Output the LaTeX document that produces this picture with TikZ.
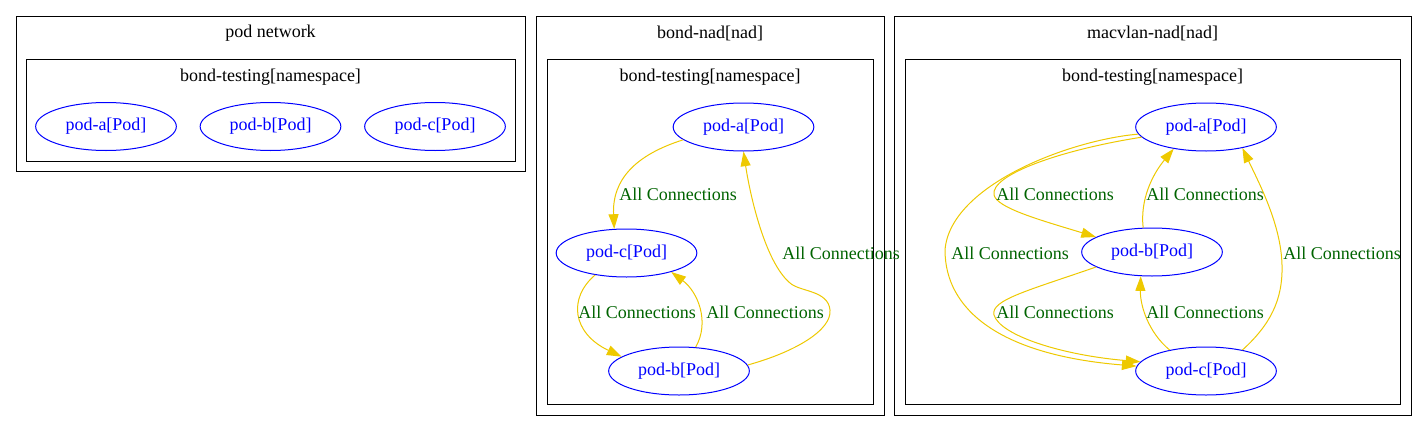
\documentclass[tikz,border=0pt]{standalone}
\usepackage{fontspec}
\setmainfont{Liberation Serif}
\usetikzlibrary{shapes.geometric,arrows.meta}
\definecolor{edgeyellow}{HTML}{EEC900}
\definecolor{labelgreen}{HTML}{006400}
\tikzset{
  pod/.style={ellipse, draw=blue, text=blue, line width=0.75pt, minimum width=105.5pt, minimum height=36pt, inner sep=0pt},
  clusterbox/.style={draw=black, line width=0.75pt},
  conn/.style={draw=edgeyellow, line width=0.75pt, -{Triangle[length=11pt,width=7.5pt]}},
  connlabel/.style={text=labelgreen, inner sep=0pt},
  ctitle/.style={text=black, inner sep=0pt}
}
\begin{document}
\begin{tikzpicture}[x=0.75pt,y=-0.75pt,font=\fontsize{13.5}{16}\selectfont]
\useasboundingbox[fill=white] (0,0) rectangle (1427,432);
% cluster 1
\draw[clusterbox] (16,16) rectangle (525.5,171.5);
\draw[clusterbox] (26,59) rectangle (515,161);
\node[ctitle] (t1) at (270.5,33) {pod network};
\node[ctitle] (t1n) at (270.5,77) {bond-testing[namespace]};
\node[pod] (p1a) at (106,126.5) {pod-a[Pod]};
\node[pod] (p1b) at (270.5,126.5) {pod-b[Pod]};
\node[pod] (p1c) at (435,126.5) {pod-c[Pod]};
% cluster 2
\draw[clusterbox] (536,16) rectangle (884,415);
\draw[clusterbox] (547,59) rectangle (873,404);
\node[ctitle] (t2) at (710,33) {bond-nad[nad]};
\node[ctitle] (t2n) at (710,77) {bond-testing[namespace]};
\node[pod] (p2a) at (743.5,127) {pod-a[Pod]};
\node[pod] (p2c) at (626.5,253) {pod-c[Pod]};
\node[pod] (p2b) at (679,371) {pod-b[Pod]};
% cluster 3
\draw[clusterbox] (894.5,16) rectangle (1411,415);
\draw[clusterbox] (905,59) rectangle (1400,404);
\node[ctitle] (t3) at (1152.5,33) {macvlan-nad[nad]};
\node[ctitle] (t3n) at (1152.5,77) {bond-testing[namespace]};
\node[pod] (p3a) at (1206,127) {pod-a[Pod]};
\node[pod] (p3b) at (1152,252) {pod-b[Pod]};
\node[pod] (p3c) at (1206,371) {pod-c[Pod]};
% edges cluster 2
\draw[conn] (p2a.192) .. controls (635,155) and (612,180) .. (p2c.117);
\draw[conn] (p2c.215) .. controls (568,298) and (572,333) .. (p2b.166);
\draw[conn] (p2b.55) .. controls (710,322) and (698,292) .. (p2c.-23);
\draw[conn] (p2b.5) .. controls (795,352) and (832,330) .. (830,310)
  .. controls (828,290) and (800,292) .. (790,283)
  .. controls (765,262) and (750,195) .. (p2a.270);
\node[connlabel] (l2ac) at (678,194) {All Connections};
\node[connlabel] (l2cb) at (637,312) {All Connections};
\node[connlabel] (l2bc) at (765,312) {All Connections};
\node[connlabel] (l2ba) at (841,253) {All Connections};
% edges cluster 3
\draw[conn] (p3a.189) .. controls (1060,150) and (990,175) .. (994,195)
  .. controls (997,208) and (1040,220) .. (p3b.165);
\draw[conn] (p3a.186) .. controls (1070,140) and (950,185) .. (945,250)
  .. controls (945,310) and (1000,355) .. (p3c.176);
\draw[conn] (p3b.195) .. controls (1030,290) and (990,300) .. (994,315)
  .. controls (1000,335) and (1060,355) .. (p3c.172);
\draw[conn] (p3b.110) .. controls (1140,200) and (1152,175) .. (p3a.214);
\draw[conn] (p3c.150) .. controls (1148,332) and (1140,305) .. (p3b.245);
\draw[conn] (p3c.30) .. controls (1270,325) and (1283,300) .. (1282,265)
  .. controls (1281,225) and (1260,185) .. (p3a.-30);
\node[connlabel] (l3ab) at (1055,194) {All Connections};
\node[connlabel] (l3ac) at (1010,253) {All Connections};
\node[connlabel] (l3bc) at (1055,312) {All Connections};
\node[connlabel] (l3ba) at (1205,194) {All Connections};
\node[connlabel] (l3cb) at (1205,312) {All Connections};
\node[connlabel] (l3ca) at (1342,253) {All Connections};
\end{tikzpicture}
\end{document}
